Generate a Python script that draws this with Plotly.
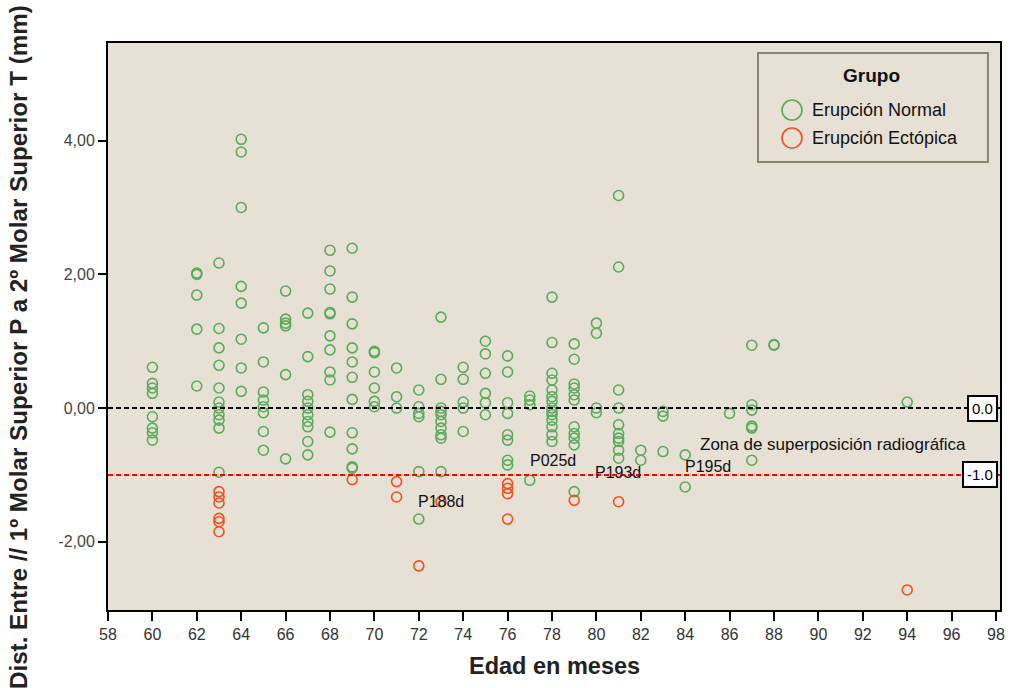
import plotly.graph_objects as go

# ---- data ----
normal_by_age = {
    60: [0.61, 0.37, 0.30, 0.22, -0.13, -0.30, -0.37, -0.48],
    62: [2.02, 2.00, 1.69, 1.18, 0.33],
    63: [2.17, 1.19, 0.90, 0.64, 0.30, 0.09, 0.0, -0.10, -0.18, -0.30, -0.96],
    64: [4.02, 3.83, 3.00, 1.82, 1.57, 1.03, 0.60, 0.25],
    65: [1.20, 0.69, 0.24, 0.12, 0.02, -0.07, -0.35, -0.63],
    66: [1.75, 1.33, 1.27, 1.23, 0.50, -0.76],
    67: [1.42, 0.77, 0.20, 0.10, 0.0, -0.10, -0.20, -0.28, -0.50, -0.70],
    68: [2.36, 2.05, 1.78, 1.43, 1.41, 1.08, 0.87, 0.54, 0.42, -0.36],
    69: [2.39, 1.66, 1.26, 0.90, 0.69, 0.46, 0.13, -0.37, -0.61, -0.88, -0.90],
    70: [0.85, 0.83, 0.54, 0.30, 0.10, 0.02],
    71: [0.60, 0.17, 0.0],
    72: [0.27, 0.02, -0.08, -0.13, -0.95, -1.66],
    73: [1.36, 0.43, 0.0, -0.05, -0.10, -0.20, -0.30, -0.40, -0.45, -0.95],
    74: [0.61, 0.43, 0.09, 0.0, -0.35],
    75: [1.00, 0.81, 0.52, 0.22, 0.08, -0.10],
    76: [0.78, 0.54, 0.08, -0.08, -0.40, -0.48, -0.78, -0.85],
    77: [0.18, 0.12, 0.05, -1.08],
    78: [1.66, 0.98, 0.52, 0.42, 0.27, 0.17, 0.10, 0.0, -0.05, -0.10, -0.18, -0.28, -0.40, -0.50],
    79: [0.96, 0.73, 0.36, 0.30, 0.20, 0.12, -0.28, -0.38, -0.45, -0.55, -1.25],
    80: [1.27, 1.12, 0.0, -0.07],
    81: [3.18, 2.11, 0.27, 0.0, -0.25, -0.38, -0.45, -0.50, -0.63, -0.75],
    82: [-0.63, -0.78],
    83: [-0.05, -0.12, -0.65],
    84: [-0.70, -1.18],
    86: [-0.08],
    87: [0.94, 0.05, -0.03, -0.27, -0.30, -0.78],
    88: [0.94, 0.95],
    94: [0.09],
}
ectopic_by_age = {
    63: [-1.25, -1.33, -1.42, -1.65, -1.70, -1.85],
    69: [-1.07],
    71: [-1.10, -1.33],
    72: [-2.36],
    73: [-1.40],
    76: [-1.13, -1.20, -1.28, -1.66],
    79: [-1.38],
    81: [-1.40],
    94: [-2.72],
}
group_names = ["Erupción Normal", "Erupción Ectópica"]
x_ticks = list(range(58, 100, 2))
y_tick_vals = [-2, 0, 2, 4]
y_tick_text = ["-2,00", "0,00", "2,00", "4,00"]
case_labels = ["P025d", "P193d", "P195d", "P188d"]
case_x = [76.92, 79.85, 83.9, 71.87]
case_y = [-0.79, -0.97, -0.88, -1.39]
zone_label = "Zona de superposición radiográfica"
ref_lines = [0.0, -1.0]
ref_labels = ["0.0", "-1.0"]


def expand(d):
    xs, ys = [], []
    for age, vals in d.items():
        for v in vals:
            xs.append(age)
            ys.append(v)
    return xs, ys


nx, ny = expand(normal_by_age)
ex, ey = expand(ectopic_by_age)

GREEN = "#5aab5a"
RED = "#f2501e"
BG = "#e6e0d5"
FONT = "Arial, Liberation Sans, sans-serif"

fig = go.Figure()
for xs, ys, col, nm in [(nx, ny, GREEN, group_names[0]), (ex, ey, RED, group_names[1])]:
    fig.add_trace(go.Scatter(x=xs, y=ys, mode="markers", name=nm, showlegend=False,
                             marker=dict(symbol="circle-open", size=10, color=col,
                                         line=dict(width=1.6, color=col))))

# reference lines
fig.add_shape(type="line", xref="paper", yref="y", x0=0, x1=1, y0=ref_lines[0], y1=ref_lines[0],
              line=dict(color="black", width=2, dash="5px,3px"))
fig.add_shape(type="line", xref="paper", yref="y", x0=0, x1=1, y0=ref_lines[1], y1=ref_lines[1],
              line=dict(color="#ff0000", width=2, dash="5px,3px"))

for lbl, yv in zip(ref_labels, ref_lines):
    fig.add_annotation(x=0.9975, xref="paper", y=yv, yref="y", text=lbl, showarrow=False,
                       xanchor="right", yanchor="middle", bgcolor="white",
                       bordercolor="black", borderwidth=2, borderpad=3,
                       font=dict(family=FONT, size=15, color="black"))

for lbl, px, py in zip(case_labels, case_x, case_y):
    fig.add_annotation(x=px, y=py, text=lbl, showarrow=False, xanchor="left",
                       yanchor="middle", font=dict(family=FONT, size=16, color="#111"))

fig.add_annotation(x=84.58, y=-0.54, text=zone_label, showarrow=False,
                   xanchor="left", yanchor="middle",
                   font=dict(family=FONT, size=17, color="#111"))

# legend box (drawn manually to match the original layout)
fig.add_shape(type="rect", xref="paper", yref="paper", x0=0.7287, x1=0.9865,
              y0=0.790, y1=0.9824, fillcolor=BG, line=dict(color="#8c8270", width=2),
              layer="above")
fig.add_annotation(x=0.8565, y=0.9418, xref="paper", yref="paper", text="<b>Grupo</b>",
                   showarrow=False, xanchor="center", yanchor="middle",
                   font=dict(family=FONT, size=19, color="#111"))
for yc, col, nm in [(0.8818, GREEN, group_names[0]), (0.8325, RED, group_names[1])]:
    fig.add_shape(type="circle", xref="paper", yref="paper", xsizemode="pixel",
                  ysizemode="pixel", xanchor=0.7668, yanchor=yc, x0=-10, x1=10,
                  y0=-10, y1=10, line=dict(color=col, width=1.6), layer="above")
    fig.add_annotation(x=0.787, y=yc, xref="paper", yref="paper", text=nm,
                       showarrow=False, xanchor="left", yanchor="middle",
                       font=dict(family=FONT, size=18, color="#111"))

# axis titles
fig.add_annotation(x=-0.1009, y=0.4638, xref="paper", yref="paper",
                   text="<b>Dist. Entre // 1º Molar Superior P a 2º Molar Superior T (mm)</b>",
                   textangle=-90, showarrow=False, xanchor="center", yanchor="middle",
                   font=dict(family=FONT, size=24.2, color="#222"))
fig.add_annotation(x=0.5, y=-0.099, xref="paper", yref="paper",
                   text="<b>Edad en meses</b>", showarrow=False,
                   xanchor="center", yanchor="middle",
                   font=dict(family=FONT, size=23.5, color="#222"))

fig.update_layout(
    width=1011, height=688,
    margin=dict(l=108, r=11, t=43, b=78, autoexpand=False),
    paper_bgcolor="white",
    plot_bgcolor=BG,
    font=dict(family=FONT, color="#333"),
    showlegend=False,
)
fig.update_xaxes(range=[58, 98.18], tickvals=x_ticks, ticks="outside", ticklen=9,
                 tickwidth=1.5, tickcolor="black", showgrid=False, zeroline=False,
                 showline=True, linecolor="black", linewidth=2, mirror=True,
                 automargin=False, tickfont=dict(size=16, color="#333"))
fig.update_yaxes(range=[-3.02, 5.46], tickvals=y_tick_vals, ticktext=y_tick_text,
                 ticks="outside", ticklen=8, tickwidth=1.5, tickcolor="black",
                 showgrid=False, zeroline=False, showline=True, linecolor="black",
                 linewidth=2, mirror=True, automargin=False,
                 tickfont=dict(size=16, color="#444"))

fig.write_html("out.html", config={"displayModeBar": False},
               post_script="document.body.style.margin='0';document.body.style.overflow='hidden';")
